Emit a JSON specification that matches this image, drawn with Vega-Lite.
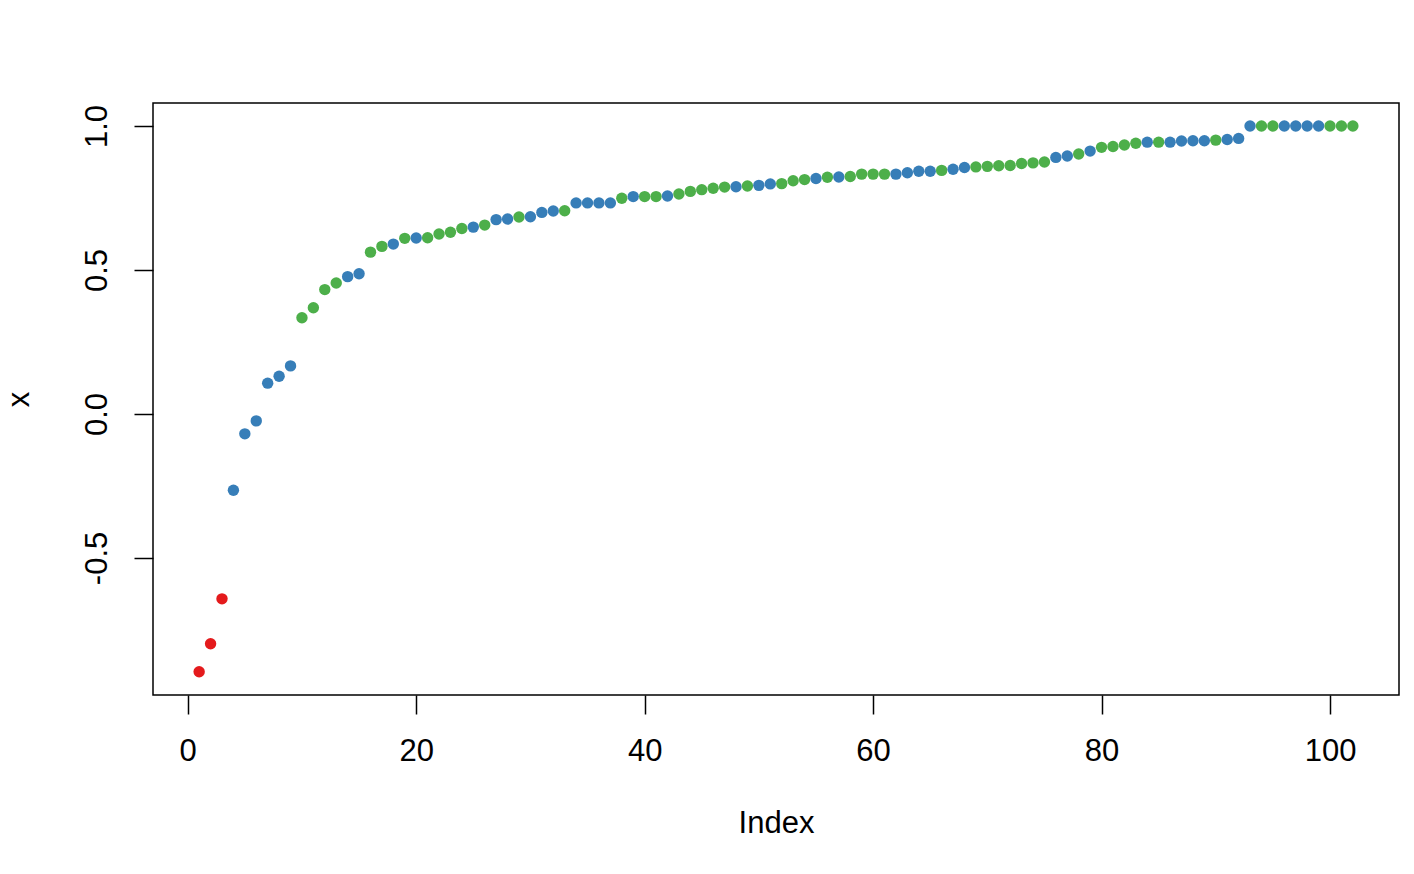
{
  "$schema": "https://vega.github.io/schema/vega-lite/v6.json",
  "width": 1246,
  "height": 592,
  "autosize": {"type": "none"},
  "padding": {"left": 153, "top": 103, "right": 15, "bottom": 179},
  "background": "white",
  "config": {
    "view": {"stroke": "black", "strokeWidth": 1.5},
    "font": "Liberation Sans"
  },
  "data": {
    "values": [
      {"i":1,"x":-0.895,"g":"r"},{"i":2,"x":-0.798,"g":"r"},{"i":3,"x":-0.642,"g":"r"},
      {"i":4,"x":-0.265,"g":"b"},{"i":5,"x":-0.069,"g":"b"},{"i":6,"x":-0.024,"g":"b"},
      {"i":7,"x":0.107,"g":"b"},{"i":8,"x":0.131,"g":"b"},{"i":9,"x":0.167,"g":"b"},
      {"i":10,"x":0.334,"g":"g"},{"i":11,"x":0.369,"g":"g"},{"i":12,"x":0.432,"g":"g"},
      {"i":13,"x":0.455,"g":"g"},{"i":14,"x":0.477,"g":"b"},{"i":15,"x":0.487,"g":"b"},
      {"i":16,"x":0.562,"g":"g"},{"i":17,"x":0.582,"g":"g"},{"i":18,"x":0.590,"g":"b"},
      {"i":19,"x":0.610,"g":"g"},{"i":20,"x":0.611,"g":"b"},{"i":21,"x":0.612,"g":"g"},
      {"i":22,"x":0.625,"g":"g"},{"i":23,"x":0.631,"g":"g"},{"i":24,"x":0.644,"g":"g"},
      {"i":25,"x":0.649,"g":"b"},{"i":26,"x":0.656,"g":"g"},{"i":27,"x":0.675,"g":"b"},
      {"i":28,"x":0.677,"g":"b"},{"i":29,"x":0.684,"g":"g"},{"i":30,"x":0.685,"g":"b"},
      {"i":31,"x":0.700,"g":"b"},{"i":32,"x":0.705,"g":"b"},{"i":33,"x":0.706,"g":"g"},
      {"i":34,"x":0.733,"g":"b"},{"i":35,"x":0.733,"g":"b"},{"i":36,"x":0.733,"g":"b"},
      {"i":37,"x":0.733,"g":"b"},{"i":38,"x":0.749,"g":"g"},{"i":39,"x":0.755,"g":"b"},
      {"i":40,"x":0.755,"g":"g"},{"i":41,"x":0.755,"g":"g"},{"i":42,"x":0.757,"g":"b"},
      {"i":43,"x":0.764,"g":"g"},{"i":44,"x":0.773,"g":"g"},{"i":45,"x":0.779,"g":"g"},
      {"i":46,"x":0.784,"g":"g"},{"i":47,"x":0.788,"g":"g"},{"i":48,"x":0.789,"g":"b"},
      {"i":49,"x":0.792,"g":"g"},{"i":50,"x":0.794,"g":"b"},{"i":51,"x":0.799,"g":"b"},
      {"i":52,"x":0.800,"g":"g"},{"i":53,"x":0.810,"g":"g"},{"i":54,"x":0.814,"g":"g"},
      {"i":55,"x":0.818,"g":"b"},{"i":56,"x":0.822,"g":"g"},{"i":57,"x":0.823,"g":"b"},
      {"i":58,"x":0.825,"g":"g"},{"i":59,"x":0.833,"g":"g"},{"i":60,"x":0.833,"g":"g"},
      {"i":61,"x":0.833,"g":"g"},{"i":62,"x":0.833,"g":"b"},{"i":63,"x":0.838,"g":"b"},
      {"i":64,"x":0.843,"g":"b"},{"i":65,"x":0.843,"g":"b"},{"i":66,"x":0.846,"g":"g"},
      {"i":67,"x":0.850,"g":"b"},{"i":68,"x":0.856,"g":"b"},{"i":69,"x":0.858,"g":"g"},
      {"i":70,"x":0.860,"g":"g"},{"i":71,"x":0.862,"g":"g"},{"i":72,"x":0.863,"g":"g"},
      {"i":73,"x":0.870,"g":"g"},{"i":74,"x":0.872,"g":"g"},{"i":75,"x":0.875,"g":"g"},
      {"i":76,"x":0.891,"g":"b"},{"i":77,"x":0.896,"g":"b"},{"i":78,"x":0.903,"g":"g"},
      {"i":79,"x":0.913,"g":"b"},{"i":80,"x":0.926,"g":"g"},{"i":81,"x":0.929,"g":"g"},
      {"i":82,"x":0.934,"g":"g"},{"i":83,"x":0.940,"g":"g"},{"i":84,"x":0.944,"g":"b"},
      {"i":85,"x":0.944,"g":"g"},{"i":86,"x":0.944,"g":"b"},{"i":87,"x":0.948,"g":"b"},
      {"i":88,"x":0.949,"g":"b"},{"i":89,"x":0.949,"g":"b"},{"i":90,"x":0.951,"g":"g"},
      {"i":91,"x":0.953,"g":"b"},{"i":92,"x":0.957,"g":"b"},{"i":93,"x":1.0,"g":"b"},
      {"i":94,"x":1.0,"g":"g"},{"i":95,"x":1.0,"g":"g"},{"i":96,"x":1.0,"g":"b"},
      {"i":97,"x":1.0,"g":"b"},{"i":98,"x":1.0,"g":"b"},{"i":99,"x":1.0,"g":"b"},
      {"i":100,"x":1.0,"g":"g"},{"i":101,"x":1.0,"g":"g"},{"i":102,"x":1.0,"g":"g"}
    ]
  },
  "mark": {"type": "circle", "size": 130, "opacity": 1},
  "encoding": {
    "x": {
      "field": "i", "type": "quantitative",
      "scale": {"domain": [-3.04, 106.04], "nice": false, "zero": false},
      "axis": {
        "title": "Index", "titleFont": "Liberation Sans", "titleFontSize": 31, "titleFontWeight": "normal",
        "titleColor": "black", "titlePadding": 42,
        "values": [0, 20, 40, 60, 80, 100], "format": "d",
        "domain": false, "grid": false,
        "ticks": true, "tickSize": 19, "tickColor": "black", "tickWidth": 1.5,
        "labelFont": "Liberation Sans", "labelFontSize": 31, "labelColor": "black", "labelPadding": 22,
        "labelFlush": false
      }
    },
    "y": {
      "field": "x", "type": "quantitative",
      "scale": {"domain": [-0.976, 1.08], "nice": false, "zero": false},
      "axis": {
        "title": "x", "titleFont": "Liberation Sans", "titleFontSize": 31, "titleFontWeight": "normal",
        "titleColor": "black", "titlePadding": 46,
        "values": [-0.5, 0, 0.5, 1],
        "labelExpr": "datum.value == 1 ? '1.0' : datum.value == 0.5 ? '0.5' : datum.value == 0 ? '0.0' : '-0.5'",
        "domain": false, "grid": false,
        "ticks": true, "tickSize": 19, "tickColor": "black", "tickWidth": 1.5,
        "labelFont": "Liberation Sans", "labelFontSize": 31, "labelColor": "black", "labelPadding": 21,
        "labelAngle": 270, "labelAlign": "center", "labelBaseline": "bottom", "labelFlush": false
      }
    },
    "color": {
      "field": "g", "type": "nominal",
      "scale": {"domain": ["r", "b", "g"], "range": ["#E41A1C", "#377EB8", "#4DAF4A"]},
      "legend": null
    }
  }
}
